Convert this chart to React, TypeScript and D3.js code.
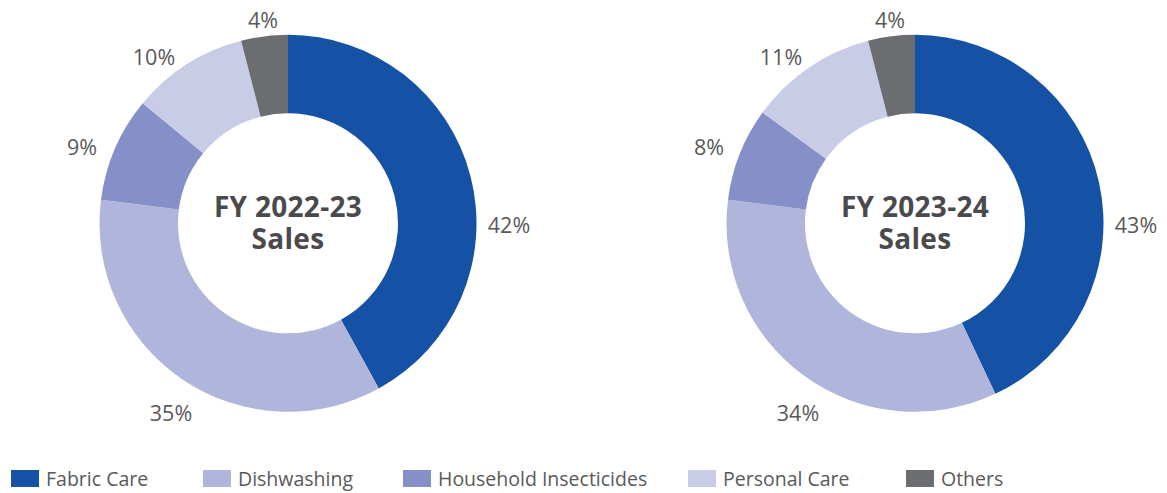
import React from "react";
import * as d3 from "d3";

// ---- data ----
const categories = ["Fabric Care", "Dishwashing", "Household Insecticides", "Personal Care", "Others"];
const salesFY2223 = [42, 35, 9, 10, 4];
const salesFY2324 = [43, 34, 8, 11, 4];
const chartTitles = ["FY 2022-23", "FY 2023-24"];
const chartSubtitle = "Sales";

// ---- styles / layout ----
const COLORS = ["#1551A4", "#B0B6DB", "#8590C8", "#C8CCE7", "#6C6D71"];
const WIDTH = 1167;
const HEIGHT = 493;
const CENTERS: [number, number][] = [[288, 223.3], [915, 223.3]];
const INNER_R = 110;
const OUTER_R = 188.5;
// label anchor offsets relative to donut centre (same for both charts)
const LABEL_OFFSETS: [number, number][] = [[221, 1], [-117, 189], [-206, -77], [-134, -166.5], [-25, -204]];
const LEGEND_X = [11, 203, 403, 688, 906];
const LABEL_FONT = "'Open Sans', 'Noto Sans', sans-serif";

function Donut({ values, title, cx, cy }: { values: number[]; title: string; cx: number; cy: number }) {
  const pie = d3.pie<number>().sort(null).value((d) => d);
  const arc = d3.arc<d3.PieArcDatum<number>>().innerRadius(INNER_R).outerRadius(OUTER_R);
  const arcs = pie(values);
  return (
    <g transform={`translate(${cx},${cy})`}>
      {arcs.map((a, i) => (
        <path key={i} d={arc(a) || ""} fill={COLORS[i]} />
      ))}
      {arcs.map((a, i) => (
        <text
          key={"l" + i}
          x={LABEL_OFFSETS[i][0]}
          y={LABEL_OFFSETS[i][1]}
          textAnchor="middle"
          dominantBaseline="central"
          fontFamily={LABEL_FONT}
          fontSize={21.5}
          fill="#595959"
        >
          {`${a.data}%`}
        </text>
      ))}
      <text textAnchor="middle" fontFamily={LABEL_FONT} fontWeight={700} fontSize={28} fill="#4A4A4C" letterSpacing={0.3}>
        <tspan x={0} y={-6}>{title}</tspan>
        <tspan x={0} y={25.5}>{chartSubtitle}</tspan>
      </text>
    </g>
  );
}

export default function App() {
  const series = [salesFY2223, salesFY2324];
  return (
    <svg
      width={WIDTH}
      height={HEIGHT}
      style={{ position: "absolute", left: 0, top: 0, background: "#fff" }}
    >
      {series.map((vals, k) => (
        <Donut key={k} values={vals} title={chartTitles[k]} cx={CENTERS[k][0]} cy={CENTERS[k][1]} />
      ))}
      <g>
        {categories.map((c, i) => (
          <g key={c} transform={`translate(${LEGEND_X[i]},470)`}>
            <rect x={0} y={0} width={28} height={17} fill={COLORS[i]} />
            <text x={35} y={16} fontFamily={LABEL_FONT} fontSize={19.5} fill="#595959">
              {c}
            </text>
          </g>
        ))}
      </g>
    </svg>
  );
}
